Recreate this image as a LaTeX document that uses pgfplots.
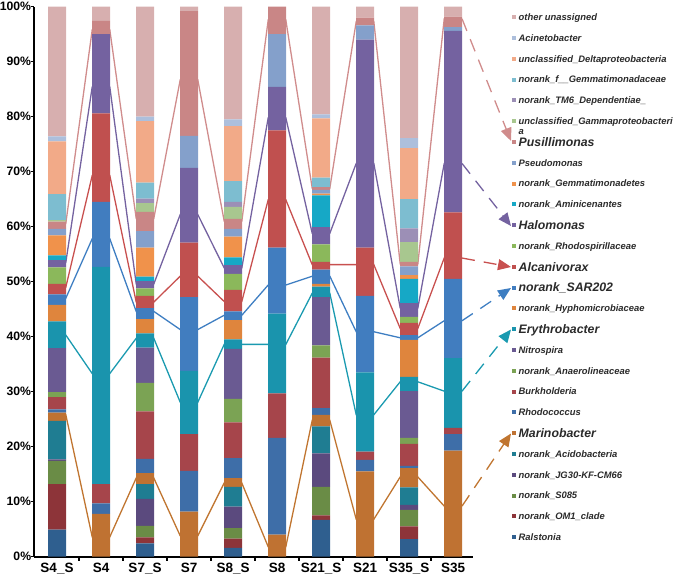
\documentclass[border=0pt]{standalone}
\usepackage{fontspec}
\setmainfont{Liberation Sans}
\usepackage{pgfplots}
\usepackage{pgfplotstable}
\pgfplotsset{compat=1.18}
\usetikzlibrary{arrows.meta}

\definecolor{cRal}{HTML}{2F5F8F}
\definecolor{cOMa}{HTML}{8D3439}
\definecolor{cSze}{HTML}{6A8C46}
\definecolor{cJG}{HTML}{5B4A7E}
\definecolor{cAci}{HTML}{1F7D92}
\definecolor{cMar}{HTML}{BF7232}
\definecolor{cRho}{HTML}{3E6EA8}
\definecolor{cBur}{HTML}{A6454B}
\definecolor{cAna}{HTML}{7BA354}
\definecolor{cNit}{HTML}{6A5A92}
\definecolor{cEry}{HTML}{1A94AD}
\definecolor{cHyp}{HTML}{DF853D}
\definecolor{cSAR}{HTML}{417DBF}
\definecolor{cAlc}{HTML}{C0504F}
\definecolor{cRsp}{HTML}{8BB85B}
\definecolor{cHal}{HTML}{7462A0}
\definecolor{cAmi}{HTML}{16A8C6}
\definecolor{cGmt}{HTML}{F0924B}
\definecolor{cPse}{HTML}{84A0CB}
\definecolor{cPus}{HTML}{C98686}
\definecolor{cGam}{HTML}{A8C78F}
\definecolor{cTM}{HTML}{9C8FB6}
\definecolor{cGmc}{HTML}{7DBDD0}
\definecolor{cDel}{HTML}{F2AA88}
\definecolor{cAcn}{HTML}{ADBFDC}
\definecolor{cOth}{HTML}{D7AFAF}
\definecolor{lPus}{HTML}{D08C8C}
\definecolor{lHal}{HTML}{7462A0}
\definecolor{lAlc}{HTML}{C8504F}
\definecolor{lSAR}{HTML}{3E7EC2}
\definecolor{lEry}{HTML}{1A9AB0}
\definecolor{lMar}{HTML}{C07530}
\definecolor{legtext}{HTML}{2A2A2A}

% relative abundance (%) per sample (rows) and taxon (columns, bottom to top)
\pgfplotstableread{
i Ral OMa Sze JG Aci Mar Rho Bur Ana Nit Ery Hyp SAR Alc Rsp Hal Ami Gmt Pse Pus Gam TM Gmc Del Acn Oth
0 4.9 8.3 4.2 0.3 7.0 1.5 0.6 2.2 0.9 8.0 4.9 3.0 1.9 1.9 3.0 1.3 0.9 3.6 1.2 1.3 0.3 0 4.7 9.6 0.9 23.6
1 0 0 0 0 0 7.8 1.9 3.5 0 0 39.5 0 11.8 16.1 0 14.4 0 0 0 2.4 0 0 0 0 0 2.6
2 2.4 1.1 2.1 4.9 2.7 2.0 2.6 8.6 5.2 6.4 2.6 2.6 2.0 2.2 1.4 1.3 0.8 5.3 3.0 3.5 1.6 0.8 2.9 11.2 0.8 20.0
3 0 0 0 0 0 8.2 7.4 6.7 0 0 11.5 0 13.4 9.9 0 13.6 0 0 5.8 22.7 0 0 0 0 0 0.8
4 1.6 1.7 1.9 3.9 3.6 1.6 3.6 6.5 4.3 9.1 1.7 3.5 1.6 3.9 2.9 1.6 1.4 3.8 1.4 1.8 2.2 0.9 3.8 10.0 1.2 20.5
5 0 0 0 0 0 4.0 17.6 8.1 0 0 14.5 0 12.0 21.3 0 7.9 0 0 9.6 5.0 0 0 0 0 0 0
6 6.7 0.8 5.2 6.1 4.9 2.1 1.2 9.2 2.2 8.8 1.9 0.5 2.6 1.4 3.2 3.1 5.8 0.3 0.7 0.5 0 0 1.7 10.8 0.7 19.6
7 0 0 0 0 0 15.5 2.1 1.5 0 0 14.4 0 13.9 8.8 0 37.8 0 0 2.6 1.4 0 0 0 0 0 2.0
8 3.2 2.3 3.0 0.9 3.2 3.5 0.4 4.0 1.1 8.5 2.6 6.7 0.9 2.2 1.1 2.5 4.4 0.7 1.6 0.8 3.6 2.5 5.3 9.3 1.8 23.9
9 0 0 0 0 0 19.3 3.0 1.1 0 0 12.7 0 14.4 12.1 0 33.0 0 0 0.7 1.9 0 0 0 0 0 1.8
}\datatab

\begin{document}
\begin{tikzpicture}
% ---------- connecting lines (behind the bars) ----------
\begin{axis}[at={(34.3bp,19.3bp)}, anchor=south west, scale only axis,
  width=439bp, height=550bp, xmin=-0.516, xmax=9.461, ymin=0, ymax=100,
  hide axis, clip=false]
\addplot[lPus, line width=1.3bp] coordinates {(0,60.6)(0.2,60.6)(0.8,95.8)(1.2,95.8)(1.8,61.5)(2.2,61.5)(2.8,86.7)(3.2,86.7)(3.8,61.0)(4.2,61.0)(4.8,97.6)(5.2,97.6)(5.8,67.0)(6.2,67.0)(6.8,97.3)(7.2,97.3)(7.8,53.2)(8.2,53.2)(8.8,97.8)(9.2,97.8)};
\addplot[lHal, line width=1.3bp] coordinates {(0,53.5)(0.2,53.5)(0.8,85.4)(1.2,85.4)(1.8,49.6)(2.2,49.6)(2.8,62.2)(3.2,62.2)(3.8,52.5)(4.2,52.5)(4.8,79.8)(5.2,79.8)(5.8,58.8)(6.2,58.8)(6.8,71.5)(7.2,71.5)(7.8,45.2)(8.2,45.2)(8.8,71.5)(9.2,71.5)};
\addplot[lAlc, line width=1.3bp] coordinates {(0,49.0)(0.2,49.0)(0.8,69.3)(1.2,69.3)(1.8,46.3)(2.2,46.3)(2.8,51.0)(3.2,51.0)(3.8,46.4)(4.2,46.4)(4.8,64.9)(5.2,64.9)(5.8,53.1)(6.2,53.1)(6.8,53.1)(7.2,53.1)(7.8,41.5)(8.2,41.5)(8.8,54.3)(9.2,54.3)};
\addplot[lSAR, line width=1.3bp] coordinates {(0,47.0)(0.2,47.0)(0.8,57.8)(1.2,57.8)(1.8,44.6)(2.2,44.6)(2.8,41.3)(3.2,41.3)(3.8,43.9)(4.2,43.9)(4.8,49.4)(5.2,49.4)(5.8,51.0)(6.2,51.0)(6.8,40.9)(7.2,40.9)(7.8,39.8)(8.2,39.8)(8.8,42.9)(9.2,42.9)};
\addplot[lEry, line width=1.3bp] coordinates {(0,40.3)(0.2,40.3)(0.8,33.3)(1.2,33.3)(1.8,39.7)(2.2,39.7)(2.8,28.1)(3.2,28.1)(3.8,38.6)(4.2,38.6)(4.8,38.6)(5.2,38.6)(5.8,47.9)(6.2,47.9)(6.8,25.8)(7.2,25.8)(7.8,31.8)(8.2,31.8)(8.8,30.1)(9.2,30.1)};
\addplot[lMar, line width=1.3bp] coordinates {(0,25.8)(0.2,25.8)(0.8,3.6)(1.2,3.6)(1.8,14.3)(2.2,14.3)(2.8,3.8)(3.2,3.8)(3.8,13.4)(4.2,13.4)(4.8,1.8)(5.2,1.8)(5.8,24.8)(6.2,24.8)(6.8,6.8)(7.2,6.8)(7.8,14.5)(8.2,14.5)(8.8,9.2)(9.2,9.2)};
\coordinate (ePus) at (axis cs:9.2045,97.8);
\coordinate (eHal) at (axis cs:9.2045,71.5);
\coordinate (eAlc) at (axis cs:9.2045,54.3);
\coordinate (eSAR) at (axis cs:9.2045,42.9);
\coordinate (eEry) at (axis cs:9.2045,30.1);
\coordinate (eMar) at (axis cs:9.2045,9.2);
\end{axis}

% ---------- stacked bars ----------
\begin{axis}[at={(34.3bp,19.3bp)}, anchor=south west, scale only axis,
  width=439bp, height=550bp, xmin=-0.516, xmax=9.461, ymin=0, ymax=100,
  ybar stacked, bar width=18bp, clip=false,
  axis x line*=bottom, axis y line*=left,
  axis line style={black, line width=2.2bp, -},
  tick align=outside, major tick length=3bp,
  xtick={0,...,9},
  xticklabels={S4\_S,S4,S7\_S,S7,S8\_S,S8,S21\_S,S21,S35\_S,S35},
  xtick style={draw=none},
  ytick={0,10,...,100},
  yticklabels={0\%,10\%,20\%,30\%,40\%,50\%,60\%,70\%,80\%,90\%,100\%},
  ytick style={black, line width=1.2bp},
  xticklabel style={font=\fontsize{13.5bp}{16bp}\selectfont\bfseries, inner sep=0pt, yshift=-3bp},
  yticklabel style={font=\fontsize{12.2bp}{14bp}\selectfont\bfseries, inner xsep=0pt},
]
\addplot[fill=cRal, draw=none] table[x=i, y=Ral] {\datatab};
\addplot[fill=cOMa, draw=none] table[x=i, y=OMa] {\datatab};
\addplot[fill=cSze, draw=none] table[x=i, y=Sze] {\datatab};
\addplot[fill=cJG,  draw=none] table[x=i, y=JG]  {\datatab};
\addplot[fill=cAci, draw=none] table[x=i, y=Aci] {\datatab};
\addplot[fill=cMar, draw=none] table[x=i, y=Mar] {\datatab};
\addplot[fill=cRho, draw=none] table[x=i, y=Rho] {\datatab};
\addplot[fill=cBur, draw=none] table[x=i, y=Bur] {\datatab};
\addplot[fill=cAna, draw=none] table[x=i, y=Ana] {\datatab};
\addplot[fill=cNit, draw=none] table[x=i, y=Nit] {\datatab};
\addplot[fill=cEry, draw=none] table[x=i, y=Ery] {\datatab};
\addplot[fill=cHyp, draw=none] table[x=i, y=Hyp] {\datatab};
\addplot[fill=cSAR, draw=none] table[x=i, y=SAR] {\datatab};
\addplot[fill=cAlc, draw=none] table[x=i, y=Alc] {\datatab};
\addplot[fill=cRsp, draw=none] table[x=i, y=Rsp] {\datatab};
\addplot[fill=cHal, draw=none] table[x=i, y=Hal] {\datatab};
\addplot[fill=cAmi, draw=none] table[x=i, y=Ami] {\datatab};
\addplot[fill=cGmt, draw=none] table[x=i, y=Gmt] {\datatab};
\addplot[fill=cPse, draw=none] table[x=i, y=Pse] {\datatab};
\addplot[fill=cPus, draw=none] table[x=i, y=Pus] {\datatab};
\addplot[fill=cGam, draw=none] table[x=i, y=Gam] {\datatab};
\addplot[fill=cTM,  draw=none] table[x=i, y=TM]  {\datatab};
\addplot[fill=cGmc, draw=none] table[x=i, y=Gmc] {\datatab};
\addplot[fill=cDel, draw=none] table[x=i, y=Del] {\datatab};
\addplot[fill=cAcn, draw=none] table[x=i, y=Acn] {\datatab};
\addplot[fill=cOth, draw=none] table[x=i, y=Oth] {\datatab};
\pgfplotsinvokeforeach{0.5,1.5,...,8.5}{\draw[black, line width=1.2bp] (axis cs:#1,0) -- ++(0bp,-4.5bp);}
\end{axis}

% ---------- dashed arrows to legend ----------
\tikzset{darr/.style={line width=1.3bp, dash pattern=on 13bp off 9bp, -{Triangle[length=13bp,width=11bp]}}}
\draw[lPus, darr] (ePus) -- (511bp,435bp);
\draw[lHal, darr] (eHal) -- (511bp,350bp);
\draw[lAlc, darr] (eAlc) -- (511bp,309bp);
\draw[lSAR, darr] (eSAR) -- (511bp,288bp);
\draw[lEry, darr] (eEry) -- (511bp,246.5bp);
\draw[lMar, darr] (eMar) -- (511bp,142.5bp);

% ---------- legend ----------
\foreach \k/\col/\txt in {0/cOth/other unassigned, 1/cAcn/Acinetobacter, 2/cDel/unclassified\_Deltaproteobacteria, 3/cGmc/norank\_f\_\_Gemmatimonadaceae, 4/cTM/norank\_TM6\_Dependentiae\_, 5/cGam/unclassified\_Gammaproteobacteri, 7/cPse/Pseudomonas, 8/cGmt/norank\_Gemmatimonadetes, 9/cAmi/norank\_Aminicenantes, 11/cRsp/norank\_Rhodospirillaceae, 14/cHyp/norank\_Hyphomicrobiaceae, 16/cNit/Nitrospira, 17/cAna/norank\_Anaerolineaceae, 18/cBur/Burkholderia, 19/cRho/Rhodococcus, 21/cAci/norank\_Acidobacteria, 22/cJG/norank\_JG30-KF-CM66, 23/cSze/norank\_S085, 24/cOMa/norank\_OM1\_clade, 25/cRal/Ralstonia}{
  \pgfmathsetmacro\yy{558.7-20.8*\k}
  \fill[\col] (511.7bp,\yy bp-2bp) rectangle +(4bp,4bp);
  \node[anchor=base west, inner sep=0pt, text=legtext, font=\fontsize{9.4bp}{11bp}\selectfont\bfseries\itshape] at (518.5bp,\yy bp-3.3bp) {\txt};
}
\node[anchor=base west, inner sep=0pt, text=legtext, font=\fontsize{9.4bp}{11bp}\selectfont\bfseries\itshape] at (518.5bp,441.5bp) {a};
\foreach \k/\col/\txt in {6/cPus/Pusillimonas, 10/cHal/Halomonas, 12/cAlc/Alcanivorax, 13/cSAR/norank\_SAR202, 15/cEry/Erythrobacter, 20/cMar/Marinobacter}{
  \pgfmathsetmacro\yy{558.7-20.8*\k}
  \fill[\col] (511.7bp,\yy bp-2bp) rectangle +(4bp,4bp);
  \node[anchor=base west, inner sep=0pt, text=legtext, font=\fontsize{12.3bp}{14bp}\selectfont\bfseries\itshape] at (518.5bp,\yy bp-4.3bp) {\txt};
}

\pgfresetboundingbox
\path[use as bounding box] (0,0) rectangle (674bp,576bp);
\end{tikzpicture}
\end{document}
